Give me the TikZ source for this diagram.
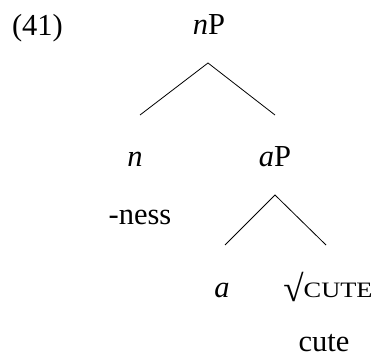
\documentclass[tikz,border=0pt]{standalone}
\usepackage{fontspec}
\setmainfont{Liberation Serif}
\usetikzlibrary{calc}
\begin{document}
\begin{tikzpicture}[x=1pt,y=-1pt,
  lbl/.style={anchor=base,inner sep=0pt,font=\fontsize{30.5}{36}\selectfont},
  edge/.style={line width=0.8pt}]
\useasboundingbox (0,0) rectangle (377,358);
\node[lbl] (ex) at (37.5,36) {(41)};
\node[lbl] (nP) at (209,35) {\textit{n}P};
\node[lbl] (n) at (135,167) {\textit{n}};
\node[lbl] (aP) at (275,167) {\textit{a}P};
\node[lbl] (ness) at (140,224) {-ness};
\node[lbl] (a) at (222,297) {\textit{a}};
\node[lbl] (root) at (328,297) {\raisebox{-4pt}{\fontsize{37}{40}\selectfont √}\scalebox{1.2}[1]{\fontsize{22}{24}\selectfont CUTE}};
\node[lbl] (cute) at (324,351) {cute};
\coordinate (nPapex) at ($(nP.base)+(-1,28)$);
\coordinate (nEnd) at ($(n.base)+(5,-52)$);
\coordinate (aPEnd) at ($(aP.base)+(0,-52)$);
\coordinate (aPapex) at ($(aP.base)+(0,28)$);
\coordinate (aEnd) at ($(a.base)+(3,-52)$);
\coordinate (rootEnd) at ($(root.base)+(-2,-52)$);
\draw[edge] (nEnd) -- (nPapex) -- (aPEnd);
\draw[edge] (aEnd) -- (aPapex) -- (rootEnd);
\end{tikzpicture}
\end{document}
